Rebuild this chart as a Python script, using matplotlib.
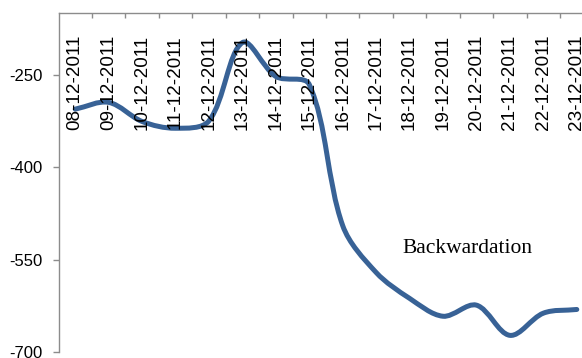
import matplotlib
matplotlib.use("Agg")
import matplotlib.pyplot as plt
from matplotlib.path import Path
from matplotlib.patches import PathPatch
from matplotlib.transforms import blended_transform_factory, offset_copy
import numpy as np

dates = ["08-12-2011", "09-12-2011", "10-12-2011", "11-12-2011", "12-12-2011",
         "13-12-2011", "14-12-2011", "15-12-2011", "16-12-2011", "17-12-2011",
         "18-12-2011", "19-12-2011", "20-12-2011", "21-12-2011", "22-12-2011",
         "23-12-2011"]
values = [-306, -295, -326, -337, -325, -198, -253, -266, -495, -571,
          -613, -642, -624, -673, -637, -631]
y_ticks = [-700, -550, -400, -250]
annotation = "Backwardation"

W, H = 582, 358
fig = plt.figure(figsize=(W / 100, H / 100), dpi=100)
ax = fig.add_axes([58.5 / W, (H - 352) / H, 535 / W, 339 / H])

n = len(values)
ax.set_xlim(-0.5, n - 0.5)
ax.set_ylim(-700, -150)

# Smoothed line (chord-length weighted Bezier, as spreadsheet charts draw it),
# computed in display space through the axes' own transforms.
xs = np.arange(n, dtype=float)
pts = ax.transData.transform(np.column_stack([xs, values]))
t = 1.0 / 3.0
ctrl_in = [None] * n
ctrl_out = [None] * n
for i in range(n):
    p1 = pts[i]
    p0 = pts[i - 1] if i > 0 else pts[i]
    p2 = pts[i + 1] if i < n - 1 else pts[i]
    d01 = np.hypot(*(p1 - p0))
    d12 = np.hypot(*(p2 - p1))
    s = d01 + d12
    if s == 0:
        ctrl_in[i] = p1
        ctrl_out[i] = p1
        continue
    fa = t * d01 / s
    fb = t * d12 / s
    ctrl_in[i] = p1 - fa * (p2 - p0)
    ctrl_out[i] = p1 + fb * (p2 - p0)
verts_disp = [pts[0]]
codes = [Path.MOVETO]
for i in range(n - 1):
    verts_disp += [ctrl_out[i], ctrl_in[i + 1], pts[i + 1]]
    codes += [Path.CURVE4] * 3
verts = ax.transData.inverted().transform(np.array(verts_disp))
path = Path(verts, codes)
ax.add_patch(PathPatch(path, facecolor="none", edgecolor="#386296",
                       lw=3.6, capstyle="round", joinstyle="round"))

for s in ["right", "bottom"]:
    ax.spines[s].set_visible(False)
for s in ["left", "top"]:
    ax.spines[s].set_color("#8c8c8c")
    ax.spines[s].set_linewidth(1.0)

ax.set_yticks(y_ticks)
ax.set_yticklabels([str(v) for v in y_ticks], fontsize=12,
                   fontfamily="Liberation Sans")
ax.tick_params(axis="y", direction="out", length=4.3, width=1.0,
               color="#8c8c8c", pad=7)

ax.xaxis.set_ticks_position("top")
ax.set_xticks(np.arange(n - 1) + 0.5)
ax.set_xticklabels([])
ax.tick_params(axis="x", direction="in", length=3.6, width=1.0,
               color="#8c8c8c", top=True, bottom=False,
               labeltop=False, labelbottom=False)

trans = blended_transform_factory(ax.transData, ax.transAxes)
trans = offset_copy(trans, fig=fig, x=0, y=-22, units="dots")
for i, d in enumerate(dates):
    ax.text(i, 1.0, d, rotation=90, ha="center", va="top", fontsize=13.6,
            fontfamily="Liberation Sans", transform=trans, clip_on=False)

ax.text(9.8, -539, annotation, fontsize=15.5, fontfamily="Liberation Serif",
        ha="left", va="baseline")

fig.savefig("out.png", dpi=100)
